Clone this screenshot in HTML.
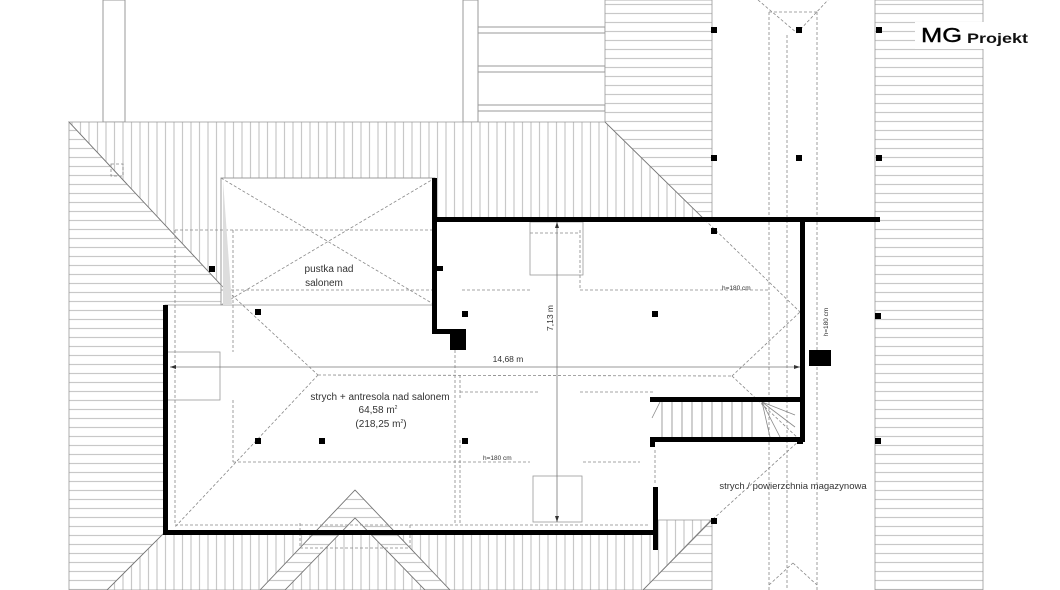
<!DOCTYPE html>
<html><head><meta charset="utf-8"><style>
html,body{margin:0;padding:0;background:#fff;width:1060px;height:590px;overflow:hidden}
svg{display:block}
text{font-family:"Liberation Sans",sans-serif;fill:#333}
</style></head><body>
<svg width="1060" height="590" viewBox="0 0 1060 590" xmlns="http://www.w3.org/2000/svg">
<defs>
<pattern id="hh" width="10" height="9" patternUnits="userSpaceOnUse"><rect width="10" height="9" fill="#fff"/><line x1="0" y1="4.5" x2="10" y2="4.5" stroke="#c8c8c8" stroke-width="1.2"/></pattern>
<pattern id="vh" width="8.5" height="10" patternUnits="userSpaceOnUse"><rect width="8.5" height="10" fill="#fff"/><line x1="4" y1="0" x2="4" y2="10" stroke="#c8c8c8" stroke-width="1.2"/></pattern>
</defs>
<g stroke="#999" stroke-width="1" fill="none">
<rect x="103" y="0" width="22" height="122"/>
<rect x="463" y="0" width="15" height="122"/>
<rect x="478" y="27" width="127" height="6" fill="#fff"/>
<rect x="478" y="66" width="127" height="6"/>
<rect x="478" y="105" width="127" height="6"/>
</g>
<g stroke="#999" stroke-width="0.8">
<polygon points="69,122 221,285 221,305 165,305 165,590 69,590" fill="url(#hh)"/>
<polygon points="69,122 605,122 705,220 435,220 435,178 221,178 221,285" fill="url(#vh)"/>
<polygon points="605,0 712,0 712,220 705,220 605,122" fill="url(#hh)"/>
<polygon points="875,0 983,0 983,590 875,590" fill="url(#hh)"/>
<polygon points="165,532 655,532 655,520 711,520 643,590 107,590" fill="url(#vh)"/>
<polygon points="712,520 712,590 643,590" fill="url(#hh)"/>
<polygon points="355,490 260,590 285,590 355,518 425,590 450,590" fill="url(#hh)"/>
</g>
<g stroke="#777" stroke-width="0.8" fill="none">
<line x1="355" y1="490" x2="260" y2="590"/><line x1="355" y1="490" x2="450" y2="590"/>
<line x1="355" y1="518" x2="285" y2="590"/><line x1="355" y1="518" x2="425" y2="590"/>
<line x1="69" y1="122" x2="221" y2="285"/>
<line x1="605" y1="122" x2="705" y2="220"/>
<line x1="712" y1="520" x2="643" y2="590"/>
<line x1="165" y1="532" x2="107" y2="590"/>
</g>
<g stroke="#888" stroke-width="0.8" fill="none" stroke-dasharray="3,2">
<rect x="111" y="164" width="12" height="12"/>
<line x1="221" y1="285" x2="318" y2="375"/>
<line x1="318" y1="375" x2="175" y2="527"/>
<line x1="318" y1="375" x2="732" y2="376"/>
<line x1="732" y1="376" x2="800" y2="312"/>
<line x1="732" y1="376" x2="800" y2="440"/>
<line x1="705" y1="220" x2="800" y2="312"/>
<line x1="800" y1="440" x2="712" y2="520"/>
<line x1="175" y1="230" x2="435" y2="230"/>
<line x1="175" y1="230" x2="175" y2="525"/>
<line x1="175" y1="525" x2="650" y2="525"/>
<line x1="233" y1="230" x2="233" y2="352"/>
<line x1="233" y1="400" x2="233" y2="462"/>
<line x1="233" y1="462" x2="530" y2="462"/>
<line x1="583" y1="462" x2="640" y2="462"/>
<line x1="460" y1="375" x2="460" y2="398"/>
<line x1="530" y1="233" x2="580" y2="233"/>
<line x1="580" y1="230" x2="580" y2="290"/>
<line x1="580" y1="290" x2="770" y2="290"/>
<line x1="530" y1="290" x2="460" y2="290"/>
<line x1="455" y1="340" x2="455" y2="525"/>
<line x1="460" y1="440" x2="460" y2="525"/>
<line x1="580" y1="392" x2="655" y2="392"/>
<line x1="460" y1="392" x2="540" y2="392"/>
<line x1="769" y1="12" x2="769" y2="590"/>
<line x1="817" y1="12" x2="817" y2="590"/>
<line x1="787" y1="35" x2="787" y2="590"/>
<line x1="769" y1="12" x2="817" y2="12"/>
<line x1="758" y1="0" x2="797" y2="33"/><line x1="797" y1="33" x2="828" y2="0"/>
<line x1="769" y1="585" x2="793" y2="563"/><line x1="793" y1="563" x2="817" y2="585"/>
<line x1="300" y1="523" x2="300" y2="548"/><line x1="300" y1="548" x2="410" y2="548"/><line x1="410" y1="548" x2="410" y2="523"/>
<line x1="221" y1="178" x2="435" y2="305"/><line x1="435" y1="178" x2="221" y2="305"/>
<line x1="221" y1="290" x2="435" y2="290"/>
<line x1="655" y1="450" x2="655" y2="485"/>
</g>
<g stroke="#999" stroke-width="0.8" fill="none">
<rect x="221" y="178" width="214" height="127"/>
<rect x="530" y="222" width="53" height="53"/>
<rect x="533" y="476" width="49" height="46"/>
<rect x="167" y="352" width="53" height="48"/>
</g>
<polygon points="223,180 232,305 223,305" fill="#ddd"/>
<g stroke="#777" stroke-width="0.8">
<line x1="170" y1="367" x2="800" y2="367"/>
<line x1="557" y1="222" x2="557" y2="522"/>
</g>
<polygon points="170,367 176,365 176,369" fill="#333"/>
<polygon points="800,367 794,365 794,369" fill="#333"/>
<polygon points="557,222 555,228 559,228" fill="#333"/>
<polygon points="557,522 555,516 559,516" fill="#333"/>
<g stroke="#888" stroke-width="0.8">
<line x1="662" y1="402" x2="662" y2="437"/><line x1="672" y1="402" x2="672" y2="437"/><line x1="682" y1="402" x2="682" y2="437"/><line x1="692" y1="402" x2="692" y2="437"/><line x1="702" y1="402" x2="702" y2="437"/><line x1="712" y1="402" x2="712" y2="437"/><line x1="722" y1="402" x2="722" y2="437"/><line x1="732" y1="402" x2="732" y2="437"/><line x1="742" y1="402" x2="742" y2="437"/><line x1="752" y1="402" x2="752" y2="437"/>
<line x1="762" y1="402" x2="780" y2="437"/><line x1="762" y1="402" x2="795" y2="427"/><line x1="762" y1="402" x2="795" y2="415"/><line x1="762" y1="402" x2="770" y2="437"/>
<line x1="652" y1="418" x2="660" y2="402"/>
</g>
<g fill="#000">
<rect x="433" y="217" width="447" height="5"/>
<rect x="432" y="178" width="5" height="155"/>
<rect x="432" y="329" width="20" height="5"/>
<rect x="450" y="329" width="16" height="21"/>
<rect x="163" y="305" width="5" height="230"/>
<rect x="163" y="530" width="495" height="5"/>
<rect x="653" y="487" width="5" height="63"/>
<rect x="800" y="220" width="5" height="222"/>
<rect x="650" y="397" width="154" height="5"/>
<rect x="650" y="437" width="154" height="5"/>
<rect x="650" y="437" width="5" height="10"/>
<rect x="809" y="350" width="22" height="16"/>
<rect x="436" y="266" width="7" height="5"/>
</g>
<g fill="#000">
<rect x="711" y="27" width="6" height="6"/><rect x="796" y="27" width="6" height="6"/><rect x="876" y="27" width="6" height="6"/>
<rect x="711" y="155" width="6" height="6"/><rect x="796" y="155" width="6" height="6"/><rect x="876" y="155" width="6" height="6"/>
<rect x="711" y="228" width="6" height="6"/><rect x="875" y="313" width="6" height="6"/><rect x="875" y="438" width="6" height="6"/>
<rect x="711" y="518" width="6" height="6"/><rect x="255" y="309" width="6" height="6"/><rect x="255" y="438" width="6" height="6"/>
<rect x="319" y="438" width="6" height="6"/><rect x="462" y="311" width="6" height="6"/><rect x="462" y="438" width="6" height="6"/>
<rect x="652" y="311" width="6" height="6"/><rect x="209" y="266" width="6" height="6"/><rect x="797" y="438" width="6" height="6"/>
</g>
<text x="329" y="272" font-size="10" text-anchor="middle">pustka nad</text>
<text x="324" y="286" font-size="10" text-anchor="middle">salonem</text>
<text x="508" y="362" font-size="8.5" text-anchor="middle">14,68 m</text>
<text x="553" y="318" font-size="8.5" text-anchor="middle" transform="rotate(-90 553 318)">7,13 m</text>
<text x="380" y="400" font-size="10" text-anchor="middle">strych + antresola nad salonem</text>
<text x="378" y="413" font-size="10" text-anchor="middle">64,58 m<tspan font-size="5" dy="-4">2</tspan></text>
<text x="381" y="427" font-size="10" text-anchor="middle">(218,25 m<tspan font-size="5" dy="-4">2</tspan><tspan dy="4">)</tspan></text>
<text x="722" y="290" font-size="6.5">h=180 cm</text>
<text x="483" y="460" font-size="6.5">h=180 cm</text>
<text x="828" y="322" font-size="6.5" text-anchor="middle" transform="rotate(-90 828 322)">h=180 cm</text>
<text x="793" y="489" font-size="9.5" text-anchor="middle">strych / powierzchnia magazynowa</text>
<rect x="915" y="22" width="118" height="27" fill="#fff"/>
<text x="921" y="42" font-size="20" textLength="41" lengthAdjust="spacingAndGlyphs" style="fill:#000;stroke:#000;stroke-width:0.4">MG</text>
<text x="967" y="43" font-size="14" font-weight="bold" textLength="61" lengthAdjust="spacingAndGlyphs" style="fill:#111">Projekt</text>
</svg>
</body></html>
